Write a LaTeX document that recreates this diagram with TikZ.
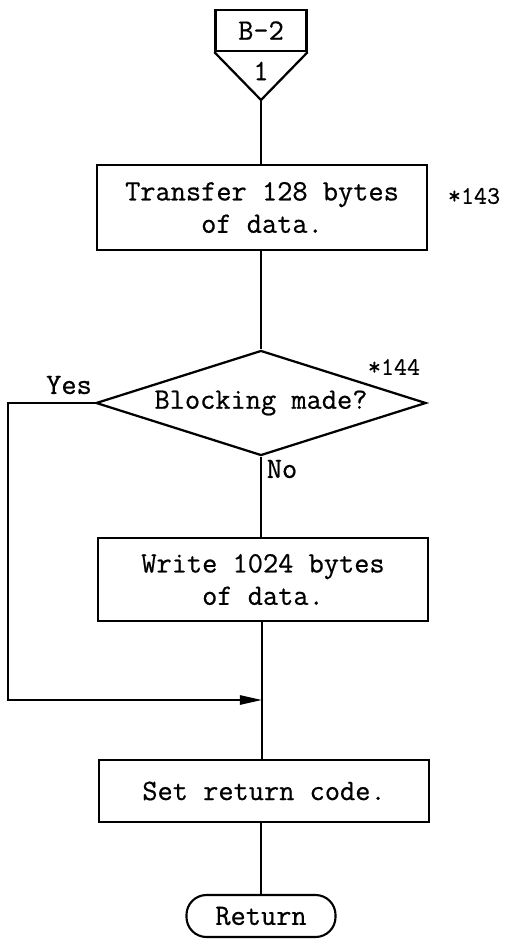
\documentclass[tikz,border=0pt]{standalone}
\usepackage{fontspec}
\setmonofont{Latin Modern Mono}[FakeBold=0.6]
\usetikzlibrary{shapes.geometric,arrows.meta}
\newcommand{\chartfont}{\fontsize{21}{23}\selectfont\ttfamily}
\newcommand{\notefont}{\fontsize{18}{20}\selectfont\ttfamily}
\begin{document}
\begin{tikzpicture}[x=0.025cm,y=-0.025cm,
    procbox/.style={draw,line width=1.6pt,minimum width=8.25cm,align=center,font=\chartfont,inner sep=0pt},
    decision/.style={draw,diamond,line width=1.6pt,aspect=3.14,minimum width=8.25cm,minimum height=2.625cm,inner sep=0pt,font=\chartfont},
    terminal/.style={draw,line width=1.5pt,rounded corners=0.5cm,minimum width=3.725cm,minimum height=1.05cm,font=\chartfont},
    flow/.style={line width=1.4pt},
    note/.style={font=\notefont,inner sep=0pt}]
  \useasboundingbox (0,0) rectangle (509,940);
  % off-page connector
  \node[draw,line width=1.6pt,minimum width=2.275cm,minimum height=1.025cm,font=\chartfont] (conn) at (261,30.5) {B-2};
  \coordinate (conntip) at (261,100);
  \draw[line width=1.6pt] (conn.south west) -- (conntip) -- (conn.south east);
  \node[font=\chartfont] (connnum) at (261,71) {1};
  % steps
  \node[procbox,minimum height=2.125cm] (transfer) at (262,207.5) {Transfer 128 bytes\\of data.};
  \node[note] (note143) at (474,196) {*143};
  \node[decision] (blocking) at (261,403) {Blocking made?};
  \node[note] (note144) at (394,367) {*144};
  \node[font=\chartfont,inner sep=0pt] (yes) at (69,385) {Yes};
  \node[font=\chartfont,inner sep=0pt] (no) at (282,469) {No};
  \node[procbox,minimum height=2.075cm] (write) at (263,579.5) {Write 1024 bytes\\of data.};
  \node[procbox,minimum height=1.55cm] (setcode) at (264,791) {Set return code.};
  \node[terminal] (return) at (261,916) {Return};
  \coordinate (yescorner) at (8,403);
  \coordinate (join) at (262,700);
  % connectors
  \draw[flow] (conntip) -- (transfer.north -| conntip);
  \draw[flow] (transfer.south -| blocking.north) -- (blocking.north);
  \draw[flow] (blocking.south) -- (write.north -| blocking.south);
  \draw[flow] (write.south -| join) -- (setcode.north -| join);
  \draw[flow] (setcode.south -| return.north) -- (return.north);
  \draw[flow,-{Triangle[length=0.55cm,width=0.23cm]}] (blocking.west) -- (yescorner) |- (join);
\end{tikzpicture}
\end{document}
